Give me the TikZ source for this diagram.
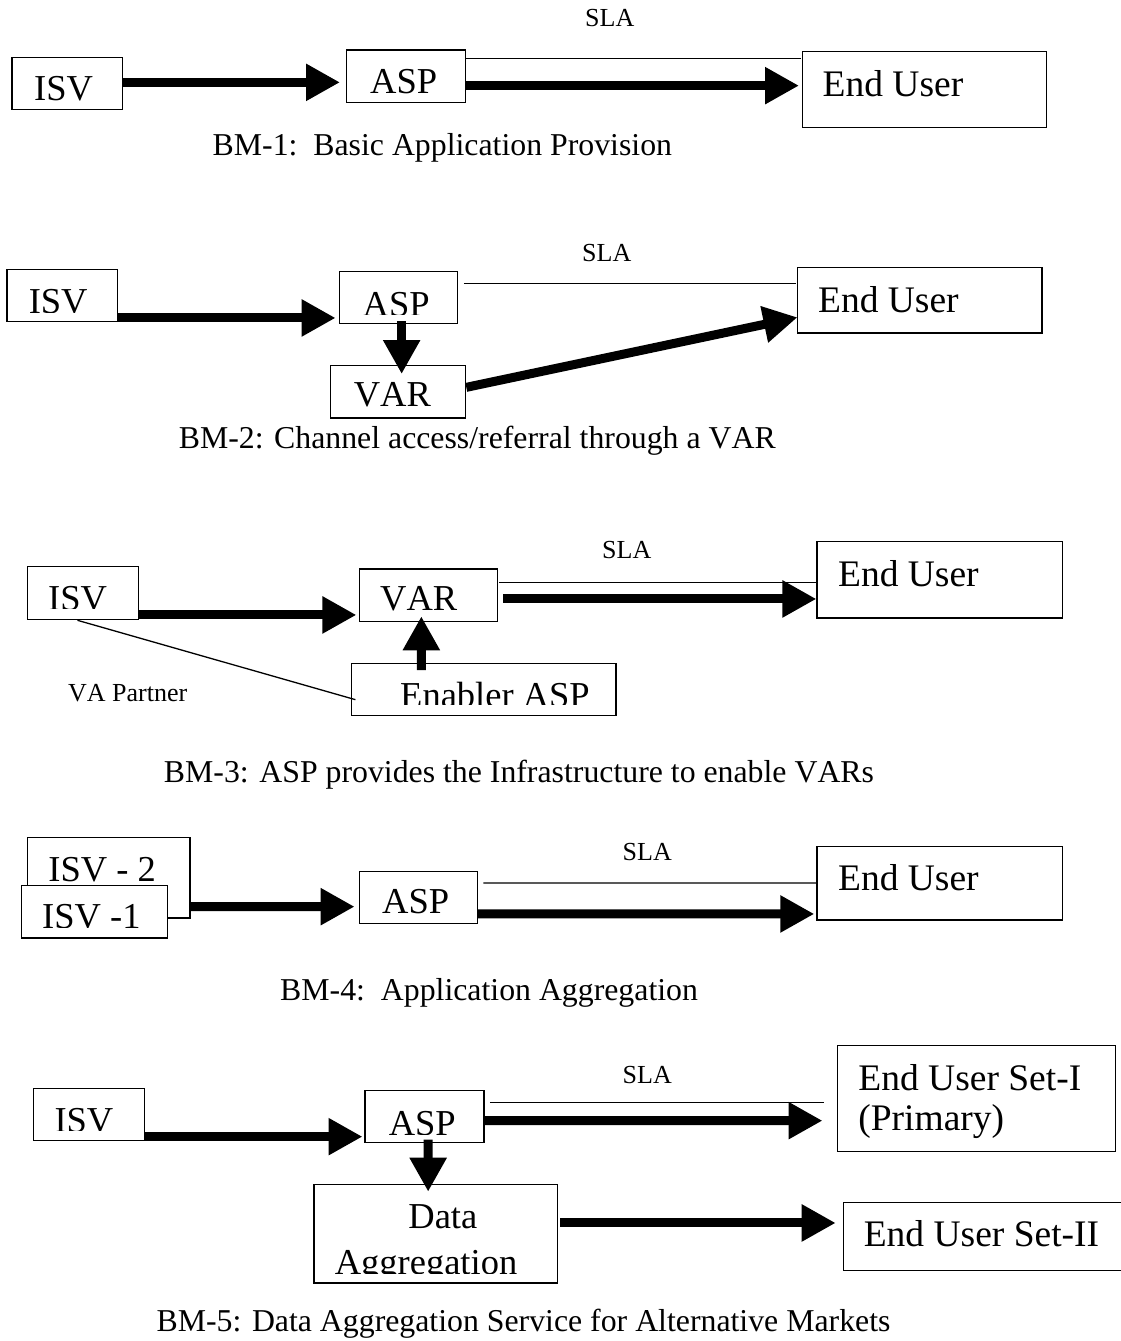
\documentclass[tikz,border=0pt]{standalone}
\usepackage{fontspec}
\setmainfont{Liberation Serif}[Kerning=Off]
\usetikzlibrary{arrows.meta,calc}

\tikzset{
  box/.style={draw, line width=1.3pt, fill=white, inner sep=0pt, anchor=north west},
  lbl/.style={inner sep=0pt, anchor=base west, font=\fontsize{36.5}{40}\selectfont},
  eulbl/.style={inner sep=0pt, anchor=base west, font=\fontsize{37.5}{40}\selectfont},
  small/.style={inner sep=0pt, anchor=base west, font=\fontsize{26}{30}\selectfont},
  caption/.style={inner sep=0pt, anchor=base west, font=\fontsize{31.8}{36}\selectfont},
  flow/.style={line width=9pt, -{Triangle[length=34pt,width=35pt]}},
  thin/.style={line width=1.3pt},
}

\begin{document}
\begin{tikzpicture}[x=1pt,y=-1pt]
\useasboundingbox (0,0) rectangle (1120,1341);

% ---------------- BM-1 ----------------
\node[box, minimum width=110.6pt, minimum height=52pt] (isvA) at (11.4,57) {};
\node[box, minimum width=119pt, minimum height=52.7pt] (aspA) at (346,49.3) {};
\node[box, minimum width=244pt, minimum height=76pt] (euA) at (802,51) {};
\begin{scope}
  \clip (isvA.north west) rectangle ($(isvA.south east)+(0,-10)$);
  \node[lbl] (isvAt) at (34,100.9) {ISV};
\end{scope}
\begin{scope}
  \clip (aspA.north west) rectangle ($(aspA.south east)+(0,-10.3)$);
  \node[lbl] (aspAt) at (370,93.9) {ASP};
\end{scope}
\node[eulbl] (euAt) at (822.5,96.7) {End User};
\node[small] (slaA) at (585,26.7) {SLA};
\draw[flow] ($(isvA.east)+(0,-1.3)$) -- ($(aspA.west)+(-6,6.05)$);
\draw[thin] ($(aspA.east)+(0,-17.95)$) -- ($(euA.west)+(-1,-31.3)$);
\draw[flow] ($(aspA.east)+(0,9.35)$) -- ($(euA.west)+(-3,-4)$);
\node[caption] (capA) at (212.5,155) {BM-1:\ \ Basic Application Provision};

% ---------------- BM-2 ----------------
\node[box, minimum width=110.6pt, minimum height=52pt] (isvB) at (6.4,269) {};
\node[box, minimum width=118.4pt, minimum height=52pt] (aspB) at (338.6,271) {};
\node[box, minimum width=135pt, minimum height=52.3pt] (varB) at (330,365) {};
\node[box, minimum width=244.6pt, minimum height=65.6pt] (euB) at (796.8,266.7) {};
\begin{scope}
  \clip (isvB.north west) rectangle ($(isvB.south east)+(0,-10)$);
  \node[lbl] (isvBt) at (28.6,313.9) {ISV};
\end{scope}
\begin{scope}
  \clip (aspB.north west) rectangle ($(aspB.south east)+(0,-9.7)$);
  \node[lbl] (aspBt) at (362.5,316.6) {ASP};
\end{scope}
\node[lbl] (varBt) at (353.6,406.7) {VAR};
\node[eulbl] (euBt) at (817.9,312.7) {End User};
\node[small] (slaB) at (582,261.7) {SLA};
\draw[flow] ($(isvB.east)+(0,22.3)$) -- ($(aspB.west)+(-3,20.3)$);
\draw[flow] ($(aspB.south)+(3.2,-3)$) -- ($(varB.north)+(3.5,9)$);
\draw[flow] ($(varB.east)+(0,-4.45)$) -- ($(euB.west)+(0.7,17.2)$);
\draw[thin] ($(aspB.east)+(5.5,-14.3)$) -- ($(euB.west)+(-0.4,-16.8)$);
\node[caption] (capB) at (178.6,448.3) {BM-2: Channel access/referral through a VAR};

% ---------------- BM-3 ----------------
\node[box, minimum width=110.7pt, minimum height=53pt] (isvC) at (26.8,566) {};
\node[box, minimum width=138pt, minimum height=52.4pt] (varC) at (359,568.3) {};
\node[box, minimum width=264.7pt, minimum height=52.3pt] (enC) at (350.7,662.7) {};
\node[box, minimum width=245.4pt, minimum height=76.6pt] (euC) at (816.4,540.7) {};
\begin{scope}
  \clip (isvC.north west) rectangle ($(isvC.south east)+(0,-11.7)$);
  \node[lbl] (isvCt) at (48,610.6) {ISV};
\end{scope}
\node[lbl] (varCt) at (380,610) {VAR};
\begin{scope}
  \clip (enC.north west) rectangle ($(enC.south east)+(0,-11.7)$);
  \node[lbl] (enCt) at (400,707.2) {Enabler ASP};
\end{scope}
\node[eulbl] (euCt) at (837.9,586) {End User};
\node[small] (slaC) at (602,558.3) {SLA};
\node[small] (vapC) at (67.9,701.7) {VA Partner};
\draw[flow] ($(isvC.east)+(0,21.8)$) -- ($(varC.west)+(-2.6,19.8)$);
\draw[flow] ($(enC.north)+(-62.35,7.3)$) -- ($(varC.south)+(-7.3,-5.7)$);
\draw[thin] ($(isvC.south)+(-5.35,0)$) -- ($(enC.west)+(4.7,10.15)$);
\draw[thin] ($(varC.east)+(1,-12.8)$) -- ($(euC.west)+(0,2.7)$);
\draw[flow] ($(varC.east)+(4.8,3.8)$) -- ($(euC.west)+(0,19.3)$);
\node[caption, anchor=base] (capC) at (519,782) {BM-3: ASP provides the Infrastructure to enable VARs};

% ---------------- BM-4 ----------------
\node[box, minimum width=162.5pt, minimum height=80.6pt] (isv2D) at (26.8,836.7) {};
\node[lbl] (isv2Dt) at (48.2,881.7) {ISV - 2};
\node[box, minimum width=146.3pt, minimum height=52.3pt] (isv1D) at (20.7,885) {};
\begin{scope}
  \clip (isv1D.north west) rectangle ($(isv1D.south east)+(0,-11.3)$);
  \node[lbl] (isv1Dt) at (42,928.9) {ISV -1};
\end{scope}
\node[box, minimum width=117.8pt, minimum height=51.7pt] (aspD) at (359,871) {};
\node[lbl] (aspDt) at (382,913.3) {ASP};
\node[box, minimum width=245.4pt, minimum height=73.6pt] (euD) at (816.4,845.7) {};
\node[eulbl] (euDt) at (837.9,890) {End User};
\node[small] (slaD) at (622.5,860.7) {SLA};
\draw[flow] ($(isv2D.east)+(0,29)$) -- ($(aspD.west)+(-4.4,9.15)$);
\draw[thin] ($(aspD.east)+(5.2,-14.55)$) -- ($(euD.west)+(0,-0.2)$);
\draw[flow] ($(aspD.east)+(0,16.45)$) -- ($(euD.west)+(-2.1,30.8)$);
\node[caption] (capD) at (280,1000) {BM-4:\ \ Application Aggregation};

% ---------------- BM-5 ----------------
\node[box, minimum width=110.7pt, minimum height=52.3pt] (isvE) at (32.9,1087.7) {};
\node[box, minimum width=118.9pt, minimum height=51.7pt] (aspE) at (364.3,1090) {};
\node[box, minimum width=243.8pt, minimum height=98.3pt] (daE) at (313.2,1184) {};
\node[box, minimum width=278.2pt, minimum height=106pt] (eu1E) at (836.8,1045) {};
\node[box, minimum width=282pt, minimum height=67.7pt] (eu2E) at (842.9,1202) {};
\begin{scope}
  \clip (isvE.north west) rectangle ($(isvE.south east)+(0,-10.7)$);
  \node[lbl] (isvEt) at (54.3,1132.2) {ISV};
\end{scope}
\begin{scope}
  \clip (aspE.north west) rectangle ($(aspE.south east)+(0,-9)$);
  \node[lbl] (aspEt) at (388.6,1135.6) {ASP};
\end{scope}
\node[lbl] (daEt1) at (408.2,1228.3) {Data};
\begin{scope}
  \clip (daE.north west) rectangle ($(daE.south east)+(0,-10)$);
  \node[lbl] (daEt2) at (334.6,1274.6) {Aggregation};
\end{scope}
\node[eulbl] (eu1Et1) at (858.2,1090) {End User Set-I};
\node[eulbl] (eu1Et2) at (858.2,1130) {(Primary)};
\node[eulbl] (eu2Et) at (863.6,1246.7) {End User Set-II};
\node[small] (slaE) at (622.5,1083.3) {SLA};
\draw[flow] ($(isvE.east)+(0,22.15)$) -- ($(aspE.west)+(-1.8,20.15)$);
\draw[flow] ($(aspE.south)+(3.75,-3.4)$) -- ($(daE.north)+(-7.6,7.7)$);
\draw[thin] ($(aspE.east)+(5.4,-14.15)$) -- ($(eu1E.west)+(-13.2,3.7)$);
\draw[flow] ($(aspE.east)+(0,4.15)$) -- ($(eu1E.west)+(-14.3,22)$);
\draw[flow] ($(daE.east)+(2,-10.85)$) -- ($(eu2E.west)+(-7.2,-13.55)$);
\node[caption] (capE) at (156.4,1331.7) {BM-5: Data Aggregation Service for Alternative Markets};
\end{tikzpicture}
\end{document}
